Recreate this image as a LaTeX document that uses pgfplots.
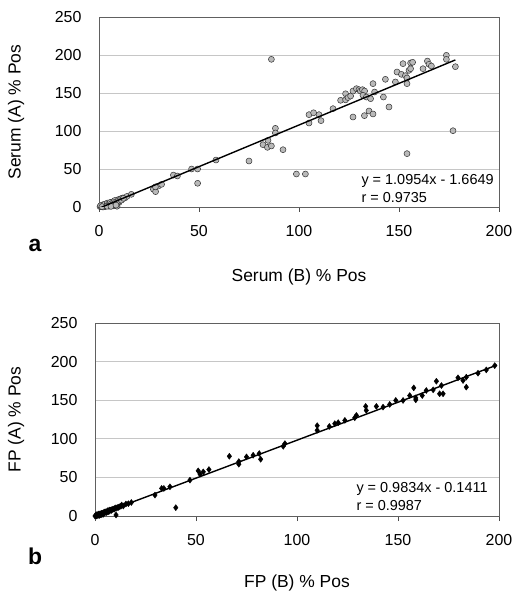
\documentclass[border=0pt]{standalone}
\usepackage{pgfplots}
\usepackage{pgfplotstable}
\pgfplotsset{compat=1.18}
\usepackage{fontspec}
\setmainfont{Liberation Sans}

\pgfplotstableread{
x y
0.5 0.5
1 1
1.2 0.3
1.5 2
2 1.5
2 3
2.5 2
3 2.5
3 1
3.5 3.5
4 3
4 4.5
4.5 2
5 5
5 3.5
5.5 4
6 6
6 2
6.5 5
7 7
7 4
7.5 6
8 8
8 2
8 5
8.5 7
9 9
9 3
9.5 8
10 10
10 6
10.5 9
11 11
11.5 10
12 12
13 12
14 14
3 0.5
2 0
5 1
7 1.5
9 1
0.8 1.8
1.8 1
2.8 3.6
3.8 2
4.2 5.2
4.8 4
5.6 6
6.2 4.5
6.8 3
7.2 5.5
7.8 8.5
8.2 6.5
8.8 4
9.2 7
9.8 9.5
10.2 8
10.8 10.5
11.2 9
1.5 0.5
4 1
6 0.8
8.5 2.5
16.2 16.7
12.2 11.4
27.2 23.3
28.3 20.2
29.7 27.6
31.3 29.8
28.2 26.5
37.2 42
39.2 40.8
46.3 50
49.3 50
49.3 31.2
58.5 61.8
75 60.5
82 82
84.2 78.5
86.2 80.3
84.5 87.7
88.2 103.5
88.2 97.4
92 75.4
86.2 194.3
98.7 43.4
103.2 43.4
105 121.5
105 110.5
107.3 124
110 121.5
111 113.6
117 129.4
120.8 140.4
123.3 149
123.3 141
124.5 144
125.8 146
127 152.6
128.7 155.7
130 154.4
130.7 152.6
131.7 154.4
132.8 152.6
132 147
133.7 144.7
135.8 142.5
137 162.3
137.8 151.3
127 118.4
132.7 120.2
135 126.3
137 122.4
142.2 144.7
143.2 168
145 131.6
148.2 164.5
149 177.6
151.2 174.6
152 188.6
153.2 172.8
154 169.7
154 162.3
155 179.8
155.8 182
155.8 189.5
156.8 190.4
162 182
164.2 192
165 187.7
166.2 185.5
173.7 199.6
173.7 194.3
178.2 184.6
177 100.4
154 70.2
}\serum

\pgfplotstableread{
x y
0 0
0.5 1
1 0.5
1.5 1.5
2 2
2 0.5
2.5 3
3 2.5
3.5 3
4 4
4 2
4.5 5
5 4.5
5.5 5
6 6
6.5 5.5
7 7.5
7.4 7.7
8 7
8.5 8.5
9 9
10.4 9.9
11 11
12 12
13.2 14.2
14 13
15.3 15.5
10.4 1.3
1 2
3 1.5
0.3 0.3
0.8 0
1.2 1.2
1.8 2.5
2.3 1.2
2.8 2
3.2 3.5
3.8 3.2
4.5 3.5
5 5.5
5.8 4.5
6.2 6.8
7 6
7.8 7.6
8.3 8
9.5 8.8
10 10.5
11.5 11
12.8 12.5
16.5 16
18 17.5
40 10.8
29.7 27.1
33 35.7
34.1 35.7
37.1 37.8
47 46.5
51.1 58.5
52 54.2
53.6 57.2
56.4 60.2
66.5 77.4
71.2 70.5
71.2 67.1
75 76.6
78.3 78.7
81.3 80.9
82 73.5
93.2 90.3
94 93.8
110 117
110 111
116 116
118.7 119.6
120.4 120.9
123.7 123.9
128.6 127.3
129.4 130.3
134 142
134.3 136.8
139.3 142
142.6 141
145.9 144.5
148.9 149.7
152.5 149.7
155.8 156
157.8 166
158.8 153
158.8 150.5
162 156
164 162.6
167.4 163.4
169 174.6
171.5 169
170.6 158.3
172.3 158.3
179.7 179
182.2 175.5
183.8 179.8
183.8 166.9
189.6 185
193.7 189.2
197.9 194.8
}\fp

\pgfplotsset{
  myaxis/.style={
    scale only axis,
    xmin=0, xmax=200, ymin=0, ymax=250,
    xtick={0,50,...,200}, ytick={0,50,...,250},
    ymajorgrids,
    grid style={gray!45, line width=0.6bp},
    axis line style={draw=gray!75!black, line width=0.7bp},
    tick align=outside,
    x tick style={draw=gray!60!black, line width=0.7bp},
    y tick style={draw=none},
    major tick length=5bp,
    xtick pos=bottom, ytick pos=left,
    tick label style={font=\fontsize{16}{18}\selectfont},
    /pgf/number format/assume math mode=true,
    yticklabel style={xshift=-9bp},
    xticklabel style={yshift=-10bp},
    label style={font=\fontsize{17.5}{20}\selectfont},
    clip mode=individual,
  }
}

\begin{document}
\begin{tikzpicture}
\path[use as bounding box] (0,0) rectangle (518bp,592bp);

\begin{axis}[myaxis,
  at={(99bp,385bp)}, anchor=south west,
  width=400bp, height=190bp,
  xlabel={Serum (B) \% Pos},
  ylabel={Serum (A) \% Pos},
  xlabel style={at={(axis description cs:0.5,-0.37)}, anchor=center},
  ylabel style={at={(axis description cs:-0.2075,0.5)}, anchor=center},
]
\addplot[only marks, mark=*, mark size=3bp, mark options={fill=gray!55, draw=black!80, line width=0.5bp}] table[x=x,y=y] {\serum};
\addplot[black, line width=1.4bp, no marks] coordinates {(0,-1.6649) (178.2,193.54)};
\node[anchor=west, font=\fontsize{14.5}{16}\selectfont] at (axis description cs:0.6475,0.137) {y = 1.0954x - 1.6649};
\node[anchor=west, font=\fontsize{14.5}{16}\selectfont] at (axis description cs:0.6475,0.05) {r = 0.9735};
\node[anchor=center, font=\fontsize{23}{26}\selectfont\bfseries] at (axis description cs:-0.16,-0.2) {a};
\end{axis}

\begin{axis}[myaxis,
  at={(95bp,76bp)}, anchor=south west,
  width=404bp, height=193bp,
  xlabel={FP (B) \% Pos},
  ylabel={FP (A) \% Pos},
  xlabel style={at={(axis description cs:0.5,-0.347)}, anchor=center},
  ylabel style={at={(axis description cs:-0.1955,0.5)}, anchor=center},
]
\addplot[only marks, mark=diamond*, mark size=3bp, mark options={fill=black, draw=black}] table[x=x,y=y] {\fp};
\addplot[black, line width=1.4bp, no marks] coordinates {(0,-0.1411) (199,195.55)};
\node[anchor=west, font=\fontsize{14.5}{16}\selectfont] at (axis description cs:0.6386,0.14) {y = 0.9834x - 0.1411};
\node[anchor=west, font=\fontsize{14.5}{16}\selectfont] at (axis description cs:0.6386,0.052) {r = 0.9987};
\node[anchor=center, font=\fontsize{23}{26}\selectfont\bfseries] at (axis description cs:-0.1485,-0.207) {b};
\end{axis}
\end{tikzpicture}
\end{document}
